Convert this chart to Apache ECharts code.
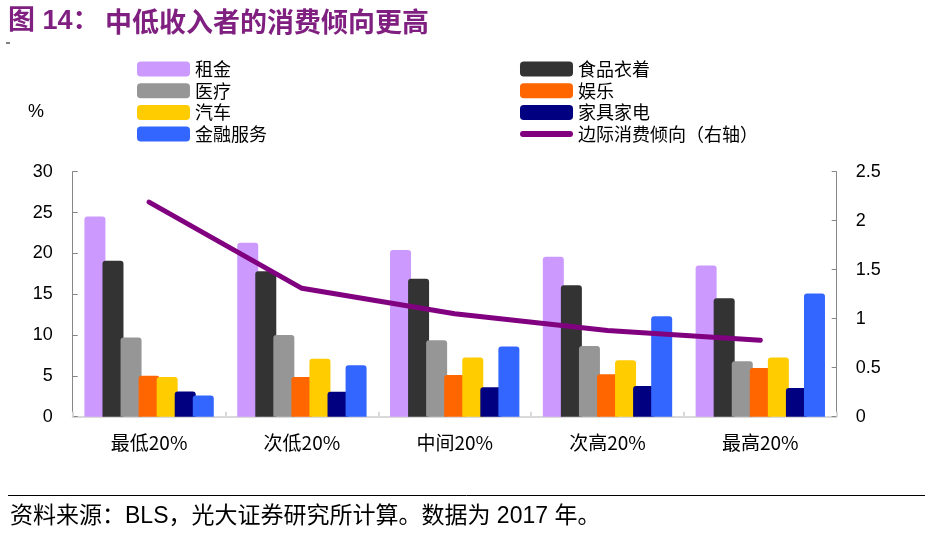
<!DOCTYPE html>
<html>
<head>
<meta charset="utf-8">
<script src="https://cdn.jsdelivr.net/npm/echarts@6/dist/echarts.min.js"></script>
<style>
html,body{margin:0;padding:0;background:#fff;}
#chart{width:938px;height:534px;}
</style>
</head>
<body>
<div id="chart"></div>
<script>
// ---- data ----
var categories = ['最低20%', '次低20%', '中间20%', '次高20%', '最高20%'];
var rent = [24.5, 21.3, 20.4, 19.6, 18.5];          // 租金
var food = [19.1, 17.8, 16.9, 16.1, 14.5];          // 食品衣着
var medical = [9.7, 10.0, 9.35, 8.65, 6.8];         // 医疗
var entertainment = [5.0, 4.85, 5.1, 5.2, 5.95];    // 娱乐
var car = [4.85, 7.1, 7.25, 6.9, 7.25];             // 汽车
var furniture = [3.1, 3.05, 3.6, 3.75, 3.5];        // 家具家电
var finance = [2.6, 6.3, 8.6, 12.3, 15.1];          // 金融服务
var mpc = [2.19, 1.31, 1.05, 0.88, 0.78];           // 边际消费倾向（右轴）
var leftTicks = [0, 30, 5];
var rightTicks = [0, 2.5, 0.5];

var FONT = '"Liberation Sans", Arial, "Noto Sans CJK SC", sans-serif';
var CJK = '"Noto Sans CJK SC", "Liberation Sans", sans-serif';

function bar(name, data, color) {
  return {
    name: name, type: 'bar', data: data, yAxisIndex: 0,
    barWidth: 21, barGap: '-14%', barCategoryGap: '15%',
    itemStyle: { color: color, borderRadius: [3, 3, 0, 0] }
  };
}

var chart = echarts.init(document.getElementById('chart'), null, { renderer: 'canvas' });
var legendCommon = {
  orient: 'vertical', itemWidth: 53, itemHeight: 15, itemGap: 3.7,
  icon: 'roundRect', selectedMode: false,
  textStyle: { fontSize: 18, lineHeight: 18, color: '#000', fontFamily: CJK }
};
chart.setOption({
  animation: false,
  backgroundColor: '#fff',
  grid: { left: 72.7, right: 101.3, top: 171.7, bottom: 117.3, containLabel: false },
  legend: [
    Object.assign({}, legendCommon, { left: 132, top: 55, data: ['租金', '医疗', '汽车', '金融服务'] }),
    Object.assign({}, legendCommon, { left: 515, top: 55, data: ['食品衣着', '娱乐', '家具家电',
      { name: '边际消费倾向（右轴）', icon: 'path://M3,0 L50,0 A3,3 0 0 1 50,6 L3,6 A3,3 0 0 1 3,0 Z' }] })
  ],
  xAxis: {
    type: 'category', data: categories,
    axisLine: { lineStyle: { color: '#d9d9d9', width: 2 } },
    axisTick: { show: true, inside: true, length: 5, lineStyle: { color: '#d9d9d9', width: 2 } },
    axisLabel: { fontSize: 19, color: '#000', margin: 17, fontFamily: CJK },
    splitLine: { show: false }
  },
  yAxis: [
    {
      type: 'value', min: leftTicks[0], max: leftTicks[1], interval: leftTicks[2], position: 'left',
      axisLine: { show: true, lineStyle: { color: '#868686', width: 1 } },
      axisTick: { show: true, inside: true, length: 5, lineStyle: { color: '#868686' } },
      axisLabel: { fontSize: 18, color: '#000', margin: 20, fontFamily: FONT },
      splitLine: { show: false }
    },
    {
      type: 'value', min: rightTicks[0], max: rightTicks[1], interval: rightTicks[2], position: 'right',
      axisLine: { show: true, lineStyle: { color: '#868686', width: 1 } },
      axisTick: { show: true, inside: true, length: 5, lineStyle: { color: '#868686' } },
      axisLabel: { fontSize: 18, color: '#000', margin: 19, fontFamily: FONT },
      splitLine: { show: false }
    }
  ],
  series: [
    bar('租金', rent, '#CC99FF'),
    bar('食品衣着', food, '#333333'),
    bar('医疗', medical, '#969696'),
    bar('娱乐', entertainment, '#FF6600'),
    bar('汽车', car, '#FFCC00'),
    bar('家具家电', furniture, '#000080'),
    bar('金融服务', finance, '#3366FF'),
    {
      name: '边际消费倾向（右轴）', type: 'line', yAxisIndex: 1, data: mpc,
      symbol: 'none', smooth: false, z: 5,
      itemStyle: { color: '#800080' },
      lineStyle: { color: '#800080', width: 5, cap: 'round', join: 'round' }
    }
  ],
  graphic: [
    { type: 'text', left: 8, top: 8,
      style: { text: '图 14：', fill: '#7f1f80', fontSize: 27, fontWeight: 'bold', fontFamily: FONT } },
    { type: 'text', left: 105, top: 8,
      style: { text: '中低收入者的消费倾向更高', fill: '#7f1f80', fontSize: 27, fontWeight: 'bold', fontFamily: CJK } },
    { type: 'line', shape: { x1: 6, y1: 43, x2: 10, y2: 43 }, style: { stroke: '#000', lineWidth: 1 } },
    { type: 'text', left: 28, top: 103,
      style: { text: '%', fill: '#000', fontSize: 18, fontFamily: FONT } },
    { type: 'line', shape: { x1: 8, y1: 495.5, x2: 925, y2: 495.5 }, style: { stroke: '#000', lineWidth: 1 } },
    { type: 'text', left: 10, top: 505,
      style: { text: '资料来源：BLS，光大证券研究所计算。数据为 2017 年。', fill: '#000', fontSize: 23, fontFamily: FONT } }
  ]
});
</script>
</body>
</html>
